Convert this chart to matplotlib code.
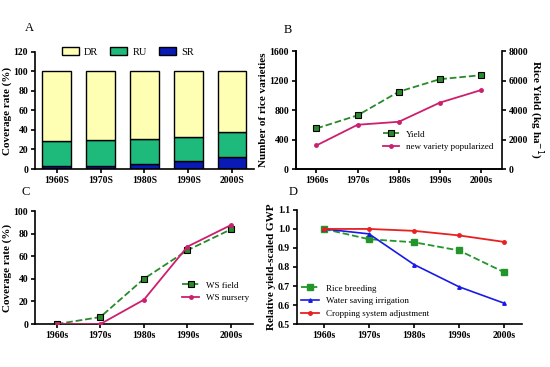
import numpy as np
import matplotlib.pyplot as plt

plt.rcParams['font.family'] = ['Liberation Serif', 'DejaVu Serif']

# A: coverage of rice types
decades_A = ['1960S', '1970S', '1980S', '1990S', '2000S']
sr = [3, 3, 5, 8, 12]
ru = [26, 27, 25.5, 25, 26]
dr = [71, 70, 69.5, 67, 62]

# B: varieties and yield
decades = ['1960s', '1970s', '1980s', '1990s', '2000s']
yield_b = [2750, 3640, 5240, 6090, 6360]
new_var = [320, 600, 640, 900, 1070]

# C: water saving coverage
ws_field = [0, 6.2, 40, 65.3, 83.8]
ws_nursery = [0, 0, 21.5, 68.5, 87.6]

# D: relative yield-scaled GWP
rice_breeding = [1.0, 0.946, 0.930, 0.887, 0.773]
water_saving = [1.0, 0.974, 0.813, 0.696, 0.610]
cropping = [1.0, 1.0, 0.990, 0.966, 0.932]

GREEN = '#2a8a2a'
PINK = '#cc1f6e'


def style(ax, right=False):
    ax.spines['top'].set_visible(False)
    if not right:
        ax.spines['right'].set_visible(False)
    for s in ax.spines.values():
        s.set_linewidth(1.2)
    ax.tick_params(width=1.2, length=3, labelsize=7, pad=2)
    for lab in ax.get_xticklabels() + ax.get_yticklabels():
        lab.set_fontweight('bold')


fig = plt.figure(figsize=(5.5, 3.67), dpi=100)

# ---- A
axA = fig.add_axes([0.0636, 0.5395, 0.398, 0.319])
x = np.arange(5)
w = 0.66
axA.bar(x, sr, w, color='#0a1ab5', edgecolor='black', linewidth=1, label='SR')
axA.bar(x, ru, w, bottom=sr, color='#1dba7c', edgecolor='black', linewidth=1, label='RU')
axA.bar(x, dr, w, bottom=np.add(sr, ru), color='#ffffb3', edgecolor='black', linewidth=1, label='DR')
axA.set_xlim(-0.5, 4.5)
axA.set_ylim(0, 120)
axA.set_yticks(range(0, 121, 20))
axA.set_xticks(x)
axA.set_xticklabels(decades_A)
axA.set_ylabel('Coverage rate (%)', fontsize=8, fontweight='bold', labelpad=1)
h, l = axA.get_legend_handles_labels()
axA.legend(h[::-1], l[::-1], ncol=3, loc='upper left', bbox_to_anchor=(0.08, 1.12),
           frameon=False, fontsize=7.5, handlelength=1.6, handleheight=0.7,
           columnspacing=1.2, handletextpad=0.5)
style(axA)
fig.text(0.045, 0.915, 'A', fontsize=9)

# ---- B
axB = fig.add_axes([0.538, 0.5395, 0.374, 0.3215])
axB2 = axB.twinx()
axB.plot(x, new_var, color=PINK, lw=1.3, marker='o', ms=2.5,
         label='new variety popularized', zorder=3)
axB2.plot(x, yield_b, color=GREEN, lw=1.3, ls='--', marker='s', ms=4,
          mfc=GREEN, mec='black', mew=0.8, label='Yield')
axB.set_xlim(-0.5, 4.5)
axB.set_ylim(0, 1600)
axB.set_yticks(range(0, 1601, 400))
axB2.set_ylim(0, 8000)
axB2.set_yticks(range(0, 8001, 2000))
axB.set_xticks(x)
axB.set_xticklabels(decades)
axB.set_ylabel('Number of rice varieties', fontsize=8, fontweight='bold', labelpad=1)
axB2.set_ylabel('Rice Yield (kg ha$^{-1}$)', fontsize=8, fontweight='bold',
                rotation=270, labelpad=12)
style(axB)
axB2.spines['top'].set_visible(False)
for s in axB2.spines.values():
    s.set_linewidth(1.2)
axB2.tick_params(width=1.2, length=3, labelsize=7, pad=2)
for lab in axB2.get_yticklabels():
    lab.set_fontweight('bold')
h1, l1 = axB2.get_legend_handles_labels()
h2, l2 = axB.get_legend_handles_labels()
axB.legend(h1 + h2, l1 + l2, loc='lower right', bbox_to_anchor=(1.0, 0.08),
           frameon=False, fontsize=6.5, handlelength=1.8)
fig.text(0.515, 0.91, 'B', fontsize=9)

# ---- C
axC = fig.add_axes([0.0636, 0.117, 0.396, 0.308])
axC.plot(x, ws_nursery, color=PINK, lw=1.3, marker='o', ms=2.5, label='WS nursery', zorder=3)
axC.plot(x, ws_field, color=GREEN, lw=1.3, ls='--', marker='s', ms=4,
         mfc=GREEN, mec='black', mew=0.8, label='WS field')
axC.set_xlim(-0.5, 4.5)
axC.set_ylim(0, 100)
axC.set_yticks(range(0, 101, 20))
axC.set_xticks(x)
axC.set_xticklabels(decades)
axC.set_ylabel('Coverage rate (%)', fontsize=8, fontweight='bold', labelpad=1)
h, l = axC.get_legend_handles_labels()
axC.legend(h[::-1], l[::-1], loc='lower right', bbox_to_anchor=(1.02, 0.12),
           frameon=False, fontsize=6.5, handlelength=1.8)
style(axC)
fig.text(0.04, 0.47, 'C', fontsize=9)

# ---- D
axD = fig.add_axes([0.54, 0.117, 0.409, 0.311])
axD.plot(x, rice_breeding, color='#22962a', lw=1.3, ls='--', marker='s', ms=4,
         label='Rice breeding')
axD.plot(x, water_saving, color='#1a1ae6', lw=1.2, marker='^', ms=2.5,
         label='Water saving irrigation')
axD.plot(x, cropping, color='#e82020', lw=1.3, marker='o', ms=2.5,
         label='Cropping system adjustment')
axD.set_xlim(-0.6, 4.4)
axD.set_ylim(0.5, 1.1)
axD.set_yticks(np.arange(0.5, 1.11, 0.1))
axD.set_yticklabels(['0.5', '0.6', '0.7', '0.8', '0.9', '1.0', '1.1'])
axD.set_xticks(x)
axD.set_xticklabels(decades)
axD.set_ylabel('Relative yield-scaled GWP', fontsize=8, fontweight='bold', labelpad=1)
axD.legend(loc='lower left', bbox_to_anchor=(-0.02, -0.02), frameon=False,
           fontsize=6.5, handlelength=2.0)
style(axD)
fig.text(0.525, 0.47, 'D', fontsize=9)

fig.savefig('out.png', dpi=100)
